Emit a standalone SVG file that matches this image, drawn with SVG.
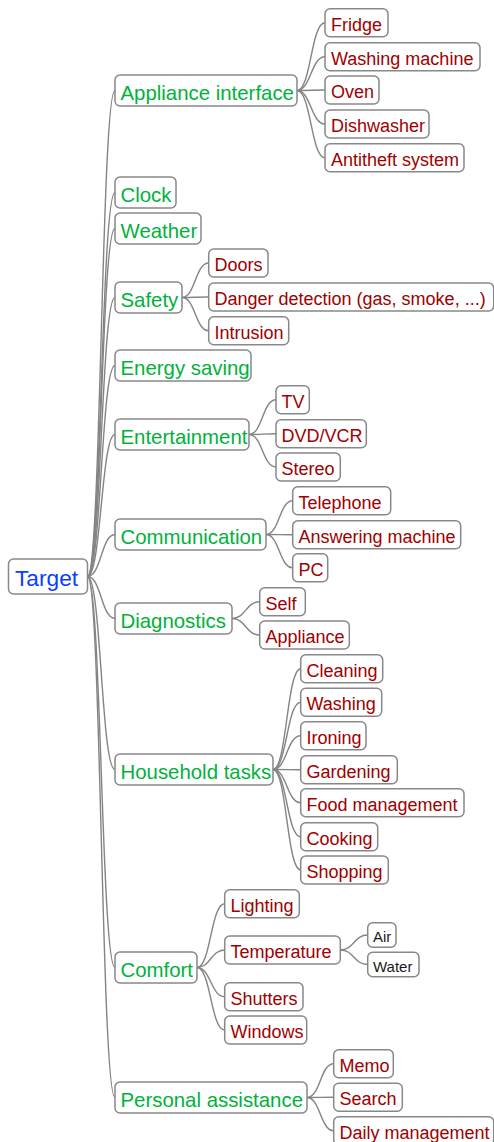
<svg xmlns="http://www.w3.org/2000/svg" width="494" height="1142" viewBox="0 0 494 1142">
<style>
rect{fill:#fff;stroke:#888;stroke-width:1.5}
text{font-family:"Liberation Sans",Arial,sans-serif}
.root{font-size:22.7px;fill:#0d3dff}
.main{font-size:20.4px;fill:#00b23a}
.sub{font-size:18px;fill:#a00000}
.leaf{font-size:15px;fill:#1a1a1a}
#connectors path{fill:none;stroke:#848484;stroke-width:1.4}
</style>
<rect x="0" y="0" width="494" height="1142" style="fill:#fff;stroke:none"/>
<g id="connectors">
<path d="M87.5,576.5 C101.25,576.5 101.25,90.5 115,90.5"/>
<path d="M87.5,576.5 C101.25,576.5 101.25,192.5 115,192.5"/>
<path d="M87.5,576.5 C101.25,576.5 101.25,228.5 115,228.5"/>
<path d="M87.5,576.5 C101.25,576.5 101.25,297.5 115,297.5"/>
<path d="M87.5,576.5 C101.25,576.5 101.25,365.5 115,365.5"/>
<path d="M87.5,576.5 C101.25,576.5 101.25,434.5 115,434.5"/>
<path d="M87.5,576.5 C101.25,576.5 101.25,534.5 115,534.5"/>
<path d="M87.5,576.5 C101.25,576.5 101.25,618.5 115,618.5"/>
<path d="M87.5,576.5 C101.25,576.5 101.25,769.5 115,769.5"/>
<path d="M87.5,576.5 C101.25,576.5 101.25,967.5 115,967.5"/>
<path d="M87.5,576.5 C101.25,576.5 101.25,1097.5 115,1097.5"/>
<path d="M297,90.5 C311,90.5 311,22.7 325,22.7"/>
<path d="M297,90.5 C311,90.5 311,56.7 325,56.7"/>
<path d="M297,90.5 C311,90.5 311,90 325,90"/>
<path d="M297,90.5 C311,90.5 311,124 325,124"/>
<path d="M297,90.5 C311,90.5 311,157.7 325,157.7"/>
<path d="M182,297.5 C195.3,297.5 195.3,263 208.7,263"/>
<path d="M182,297.5 C195.3,297.5 195.3,297 208.7,297"/>
<path d="M182,297.5 C195.3,297.5 195.3,330.7 208.7,330.7"/>
<path d="M249,434.5 C262.5,434.5 262.5,399.7 276,399.7"/>
<path d="M249,434.5 C262.5,434.5 262.5,433.7 276,433.7"/>
<path d="M249,434.5 C262.5,434.5 262.5,467 276,467"/>
<path d="M266,534.5 C279.3,534.5 279.3,500.7 292.7,500.7"/>
<path d="M266,534.5 C279.3,534.5 279.3,534.7 292.7,534.7"/>
<path d="M266,534.5 C279.3,534.5 279.3,567.7 292.7,567.7"/>
<path d="M232,618.5 C245.8,618.5 245.8,601.7 259.7,601.7"/>
<path d="M232,618.5 C245.8,618.5 245.8,635 259.7,635"/>
<path d="M273,769.5 C286.8,769.5 286.8,668.7 300.7,668.7"/>
<path d="M273,769.5 C286.8,769.5 286.8,702.3 300.7,702.3"/>
<path d="M273,769.5 C286.8,769.5 286.8,735.7 300.7,735.7"/>
<path d="M273,769.5 C286.8,769.5 286.8,769.7 300.7,769.7"/>
<path d="M273,769.5 C286.8,769.5 286.8,802.7 300.7,802.7"/>
<path d="M273,769.5 C286.8,769.5 286.8,836.7 300.7,836.7"/>
<path d="M273,769.5 C286.8,769.5 286.8,870 300.7,870"/>
<path d="M197,967.5 C210.8,967.5 210.8,903.7 224.7,903.7"/>
<path d="M197,967.5 C210.8,967.5 210.8,950 224.7,950"/>
<path d="M197,967.5 C210.8,967.5 210.8,996.7 224.7,996.7"/>
<path d="M197,967.5 C210.8,967.5 210.8,1030 224.7,1030"/>
<path d="M340.3,950 C354,950 354,935 367.7,935"/>
<path d="M340.3,950 C354,950 354,964.5 367.7,964.5"/>
<path d="M307,1097.5 C320.3,1097.5 320.3,1063.7 333.7,1063.7"/>
<path d="M307,1097.5 C320.3,1097.5 320.3,1097.3 333.7,1097.3"/>
<path d="M307,1097.5 C320.3,1097.5 320.3,1130.7 333.7,1130.7"/>
</g>
<g id="target"><rect x="8.5" y="559" width="79" height="35" rx="5"/><text class="root" x="15" y="586">Target</text></g>
<g id="appliance-interface"><rect x="115" y="75" width="182" height="31" rx="5"/><text class="main" x="120.5" y="99.5">Appliance interface</text></g>
<g id="clock"><rect x="115" y="177" width="61" height="31" rx="5"/><text class="main" x="120.5" y="201.5">Clock</text></g>
<g id="weather"><rect x="115" y="213" width="86" height="31" rx="5"/><text class="main" x="120.5" y="237.5">Weather</text></g>
<g id="safety"><rect x="115" y="282" width="67" height="31" rx="5"/><text class="main" x="120.5" y="306.5">Safety</text></g>
<g id="energy-saving"><rect x="115" y="350" width="136" height="31" rx="5"/><text class="main" x="120.5" y="374.5">Energy saving</text></g>
<g id="entertainment"><rect x="115" y="419" width="134" height="31" rx="5"/><text class="main" x="120.5" y="443.5">Entertainment</text></g>
<g id="communication"><rect x="115" y="519" width="151" height="31" rx="5"/><text class="main" x="120.5" y="543.5">Communication</text></g>
<g id="diagnostics"><rect x="115" y="603" width="117" height="31" rx="5"/><text class="main" x="120.5" y="627.5">Diagnostics</text></g>
<g id="household-tasks"><rect x="115" y="754" width="158" height="31" rx="5"/><text class="main" x="120.5" y="778.5">Household tasks</text></g>
<g id="comfort"><rect x="115" y="952" width="82" height="31" rx="5"/><text class="main" x="120.5" y="976.5">Comfort</text></g>
<g id="personal-assistance"><rect x="115" y="1082" width="192" height="31" rx="5"/><text class="main" x="120.5" y="1106.5">Personal assistance</text></g>
<g id="fridge"><rect x="325" y="8.7" width="63" height="28" rx="5"/><text class="sub" x="331" y="30.7">Fridge</text></g>
<g id="washing-machine"><rect x="325" y="42.7" width="155" height="28" rx="5"/><text class="sub" x="331" y="64.7">Washing machine</text></g>
<g id="oven"><rect x="325" y="76" width="54" height="28" rx="5"/><text class="sub" x="331" y="98">Oven</text></g>
<g id="dishwasher"><rect x="325" y="110" width="104" height="28" rx="5"/><text class="sub" x="331" y="132">Dishwasher</text></g>
<g id="antitheft-system"><rect x="325" y="143.7" width="139" height="28" rx="5"/><text class="sub" x="331" y="165.7">Antitheft system</text></g>
<g id="doors"><rect x="208.7" y="249" width="59.3" height="28" rx="5"/><text class="sub" x="214.5" y="271">Doors</text></g>
<g id="danger-detection"><rect x="208.7" y="283" width="285" height="28" rx="5"/><text class="sub" x="214.5" y="305">Danger detection (gas, smoke, ...)</text></g>
<g id="intrusion"><rect x="208.7" y="316.7" width="80" height="28" rx="5"/><text class="sub" x="214.5" y="338.7">Intrusion</text></g>
<g id="tv"><rect x="276" y="385.7" width="33.3" height="28" rx="5"/><text class="sub" x="281.5" y="407.7">TV</text></g>
<g id="dvd-vcr"><rect x="276" y="419.7" width="90.3" height="28" rx="5"/><text class="sub" x="281.5" y="441.7">DVD/VCR</text></g>
<g id="stereo"><rect x="276" y="453" width="64.3" height="28" rx="5"/><text class="sub" x="281.5" y="475">Stereo</text></g>
<g id="telephone"><rect x="292.7" y="486.7" width="98" height="28" rx="5"/><text class="sub" x="298.5" y="508.7">Telephone</text></g>
<g id="answering-machine"><rect x="292.7" y="520.7" width="168" height="28" rx="5"/><text class="sub" x="298.5" y="542.7">Answering machine</text></g>
<g id="pc"><rect x="292.7" y="553.7" width="35" height="28" rx="5"/><text class="sub" x="298.5" y="575.7">PC</text></g>
<g id="self"><rect x="259.7" y="587.7" width="45.6" height="28" rx="5"/><text class="sub" x="265.5" y="609.7">Self</text></g>
<g id="appliance"><rect x="259.7" y="621" width="89.6" height="28" rx="5"/><text class="sub" x="265.5" y="643">Appliance</text></g>
<g id="cleaning"><rect x="300.7" y="654.7" width="82" height="28" rx="5"/><text class="sub" x="306.5" y="676.7">Cleaning</text></g>
<g id="washing"><rect x="300.7" y="688.3" width="81" height="28" rx="5"/><text class="sub" x="306.5" y="710.3">Washing</text></g>
<g id="ironing"><rect x="300.7" y="721.7" width="65.3" height="28" rx="5"/><text class="sub" x="306.5" y="743.7">Ironing</text></g>
<g id="gardening"><rect x="300.7" y="755.7" width="96.6" height="28" rx="5"/><text class="sub" x="306.5" y="777.7">Gardening</text></g>
<g id="food-management"><rect x="300.7" y="788.7" width="163.3" height="28" rx="5"/><text class="sub" x="306.5" y="810.7">Food management</text></g>
<g id="cooking"><rect x="300.7" y="822.7" width="77" height="28" rx="5"/><text class="sub" x="306.5" y="844.7">Cooking</text></g>
<g id="shopping"><rect x="300.7" y="856" width="87.6" height="28" rx="5"/><text class="sub" x="306.5" y="878">Shopping</text></g>
<g id="lighting"><rect x="224.7" y="889.7" width="74.6" height="28" rx="5"/><text class="sub" x="230.5" y="911.7">Lighting</text></g>
<g id="temperature"><rect x="224.7" y="936" width="115.6" height="28" rx="5"/><text class="sub" x="230.5" y="958">Temperature</text></g>
<g id="shutters"><rect x="224.7" y="982.7" width="78.3" height="28" rx="5"/><text class="sub" x="230.5" y="1004.7">Shutters</text></g>
<g id="windows"><rect x="224.7" y="1016" width="82" height="28" rx="5"/><text class="sub" x="230.5" y="1038">Windows</text></g>
<g id="air"><rect x="367.7" y="922.7" width="28.3" height="24.5" rx="5"/><text class="leaf" x="373" y="942.2">Air</text></g>
<g id="water"><rect x="367.7" y="952.3" width="51.3" height="24.5" rx="5"/><text class="leaf" x="373" y="971.8">Water</text></g>
<g id="memo"><rect x="333.7" y="1049.7" width="59.6" height="28" rx="5"/><text class="sub" x="339.5" y="1071.7">Memo</text></g>
<g id="search"><rect x="333.7" y="1083.3" width="68.6" height="28" rx="5"/><text class="sub" x="339.5" y="1105.3">Search</text></g>
<g id="daily-management"><rect x="333.7" y="1116.7" width="160" height="28" rx="5"/><text class="sub" x="339.5" y="1138.7">Daily management</text></g>
</svg>
